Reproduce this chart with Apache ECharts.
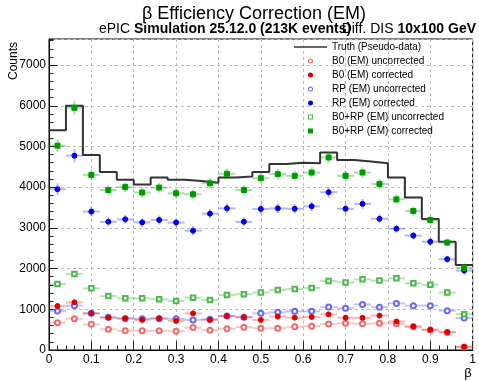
<!DOCTYPE html>
<html>
<head>
<meta charset="utf-8">
<script src="https://cdn.jsdelivr.net/npm/echarts@6.0.0/dist/echarts.min.js"></script>
<style>
html,body{margin:0;padding:0;background:#fff;}
#chart{width:479px;height:381px;}
</style>
</head>
<body>
<div id="chart"></div>
<script>
// ---- data ----
const betaCenters = [0.02,0.06,0.10,0.14,0.18,0.22,0.26,0.30,0.34,0.38,0.42,0.46,0.50,0.54,0.58,0.62,0.66,0.70,0.74,0.78,0.82,0.86,0.90,0.94,0.98];
const truth      = [5400,6000,4790,4370,4180,4065,4235,4180,4150,4110,4240,4260,4375,4570,4600,4590,4850,4670,4630,4590,4240,3745,3220,2660,2090];
const b0Unc      = [670,770,630,510,475,475,475,460,550,485,520,560,535,535,570,585,640,655,645,655,645,570,490,430,72];
const b0UncErr   = [25,28,25,22,22,22,22,21,23,22,23,24,23,23,24,24,25,26,25,26,25,24,22,21,8];
const b0Corr     = [1080,1170,900,795,780,740,780,715,900,740,835,805,740,820,795,810,875,795,790,845,700,580,500,440,78];
const b0CorrErr  = [70,75,60,55,55,55,55,55,60,55,58,55,55,55,55,55,60,55,55,55,50,45,40,40,20];
const rpUnc      = [960,1090,900,805,770,770,770,765,740,755,835,805,900,925,950,950,1055,1025,1120,1050,1145,1090,1090,965,785];
const rpUncErr   = [31,33,30,28,28,28,28,28,27,27,29,28,30,30,31,31,32,32,33,32,34,33,33,31,28];
const rpCorr     = [3950,4775,3400,3150,3210,3135,3195,3130,2930,3350,3480,3150,3465,3480,3470,3530,3875,3470,3590,3225,2980,2810,2660,2230,1950];
const rpCorrErr  = [140,160,120,110,110,110,110,110,110,115,120,110,115,115,115,115,130,115,120,105,100,95,90,85,100];
const sumUnc     = [1620,1865,1515,1325,1270,1270,1245,1205,1285,1230,1350,1370,1415,1475,1500,1525,1695,1660,1735,1705,1760,1640,1600,1410,880];
const sumUncErr  = [40,43,39,36,36,36,35,35,36,35,37,37,38,38,39,39,41,41,42,41,42,40,40,38,30];
const sumCorr    = [5020,5950,4300,3930,4000,3870,3990,3850,3825,4095,4330,3930,4220,4320,4280,4360,4730,4280,4360,4080,3700,3415,3195,2640,2020];
const sumCorrErr = [150,170,130,120,120,120,120,120,120,125,130,120,125,125,125,130,140,125,130,120,115,110,100,95,110];
const legendNames = ['Truth (Pseudo-data)', 'B0 (EM) uncorrected', 'B0 (EM) corrected', 'RP (EM) uncorrected',
                     'RP (EM) corrected', 'B0+RP (EM) uncorrected', 'B0+RP (EM) corrected'];
const HALF_BIN = 0.02;

const FONT = "'Liberation Sans', Arial, Helvetica, sans-serif";

function errRender(color, lw) {
  return function (params, api) {
    const x = api.value(0), y = api.value(1), e = api.value(2);
    const l = api.coord([x - HALF_BIN, y]);
    const r = api.coord([x + HALF_BIN, y]);
    const t = api.coord([x, y + e]);
    const b = api.coord([x, y - e]);
    return {
      type: 'group',
      children: [
        {type: 'line', shape: {x1: l[0], y1: l[1], x2: r[0], y2: r[1]}, style: {stroke: color, lineWidth: lw}},
        {type: 'line', shape: {x1: t[0], y1: t[1], x2: b[0], y2: b[1]}, style: {stroke: color, lineWidth: lw}}
      ]
    };
  };
}
function errSeries(vals, errs, color) {
  return {
    type: 'custom', name: '_err', coordinateSystem: 'cartesian2d', z: 3, silent: true,
    renderItem: errRender(color, 2),
    encode: {x: 0, y: 1},
    data: vals.map((v, i) => [betaCenters[i], v, errs[i]])
  };
}
function markSeries(name, vals, symbol, size, color) {
  return {
    type: 'scatter', name: name, z: 5, symbol: symbol, symbolSize: size,
    itemStyle: {color: color, borderColor: color, borderWidth: 1, opacity: 1},
    data: vals.map((v, i) => [betaCenters[i], v])
  };
}

const truthSteps = truth.map((v, i) => [betaCenters[i] - HALF_BIN, v]);
truthSteps.push([betaCenters[betaCenters.length - 1] + HALF_BIN, truth[truth.length - 1]]);

const C = {
  redUnc: '#f06a6a', redUncBar: 'rgba(240,90,90,0.35)',
  red: '#dd0000', redBar: 'rgba(255,40,40,0.35)',
  blueUnc: '#6a6af0', blueUncBar: 'rgba(80,80,255,0.35)',
  blue: '#0000dd', blueBar: 'rgba(40,40,255,0.35)',
  greenUnc: '#4fb84f', greenUncBar: 'rgba(0,170,0,0.3)',
  green: '#009a00', greenBar: 'rgba(0,170,0,0.35)'
};

const ICON_LINE = 'path://M0,0H66V3H0Z';
const ICON_SQ = 'path://M0,0H10V10H0Z';
const ICON_OSQ = 'path://M0,0H10V10H0Z M2,2V8H8V2Z';
const ICON_CIR = 'path://M5,0A5,5,0,1,1,5,10A5,5,0,1,1,5,0Z';
const ICON_OCIR = 'path://M5,0A5,5,0,1,1,5,10A5,5,0,1,1,5,0Z M5,2A3,3,0,1,0,5,8A3,3,0,1,0,5,2Z';

const chart = echarts.init(document.getElementById('chart'), null, {renderer: 'canvas'});
chart.setOption({
  animation: false,
  backgroundColor: '#fff',
  textStyle: {fontFamily: FONT},
  title: [
    {text: 'β Efficiency Correction (EM)', left: 142, top: 5, padding: 0,
     textStyle: {fontSize: 18, fontWeight: 'normal', color: '#000', fontFamily: FONT}},
    {text: '{n|ePIC }{b|Simulation 25.12.0 (213K events)}', left: 99, top: 22, padding: 0,
     textStyle: {fontFamily: FONT, rich: {
       n: {fontSize: 14, fontWeight: 'normal', color: '#000', fontFamily: FONT},
       b: {fontSize: 14, fontWeight: 'bold', color: '#000', fontFamily: FONT}}}},
    {text: '{n|Diff. DIS }{b|10x100 GeV}', right: 3, top: 22, padding: 0,
     textStyle: {fontFamily: FONT, rich: {
       n: {fontSize: 14, fontWeight: 'normal', color: '#000', fontFamily: FONT},
       b: {fontSize: 14, fontWeight: 'bold', color: '#000', fontFamily: FONT}}}}
  ],
  grid: {left: 49, right: 6, top: 39, bottom: 31, show: true, borderColor: '#000', borderWidth: 1, backgroundColor: 'transparent'},
  legend: {
    orient: 'vertical', left: 294, top: 40, padding: 0, itemGap: 0,
    itemWidth: 33, itemHeight: 5, itemTextGap: 7, selectedMode: false,
    textStyle: {fontSize: 10, color: '#000', fontFamily: FONT, lineHeight: 14},
    data: [
      {name: legendNames[0], icon: ICON_LINE, itemStyle: {color: '#333'}},
      {name: legendNames[1], icon: ICON_OCIR, itemStyle: {color: C.redUnc, borderWidth: 0}},
      {name: legendNames[2], icon: ICON_CIR, itemStyle: {color: C.red, borderWidth: 0}},
      {name: legendNames[3], icon: ICON_OCIR, itemStyle: {color: C.blueUnc, borderWidth: 0}},
      {name: legendNames[4], icon: ICON_CIR, itemStyle: {color: C.blue, borderWidth: 0}},
      {name: legendNames[5], icon: ICON_OSQ, itemStyle: {color: C.greenUnc, borderWidth: 0}},
      {name: legendNames[6], icon: ICON_SQ, itemStyle: {color: C.green, borderWidth: 0}}
    ]
  },
  xAxis: {
    type: 'value', min: 0, max: 1, interval: 0.1,
    axisLine: {show: true, onZero: false, lineStyle: {color: '#000', width: 1}},
    axisTick: {show: true, inside: true, length: 9, lineStyle: {color: '#222'}},
    minorTick: {show: true, splitNumber: 5, length: 4.5, lineStyle: {color: '#222'}},
    axisLabel: {fontSize: 12, color: '#000', margin: 4, fontFamily: FONT},
    splitLine: {show: true, lineStyle: {type: [3, 3], color: '#bdbdbd', width: 1}}
  },
  yAxis: [
    {
      type: 'value', min: 0, max: 7640, interval: 1000, position: 'left',
      axisLine: {show: true, onZero: false, lineStyle: {color: '#000', width: 1}},
      axisTick: {show: true, inside: true, length: 9, lineStyle: {color: '#222'}},
      axisLabel: {fontSize: 12, color: '#000', margin: 3, showMaxLabel: false, fontFamily: FONT,
                  formatter: v => String(Math.round(v))},
      splitLine: {show: true, lineStyle: {type: [3, 3], color: '#bdbdbd', width: 1}}
    },
    {
      type: 'value', min: 0, max: 7640, interval: 200, position: 'left', offset: 0,
      axisLine: {show: false},
      axisTick: {show: true, inside: true, length: 4.5, lineStyle: {color: '#222'}},
      axisLabel: {show: false},
      splitLine: {show: false}
    }
  ],
  graphic: [
    {type: 'text', x: 8, y: 42, rotation: Math.PI / 2,
     style: {text: 'Counts', font: "12px 'Liberation Sans', Arial, sans-serif", fill: '#000', align: 'right', verticalAlign: 'top'}},
    {type: 'text', x: 468, y: 373,
     style: {text: 'β', font: "13px 'Liberation Sans', Arial, sans-serif", fill: '#000', align: 'center', verticalAlign: 'middle'}}
  ],
  series: [
    {type: 'line', name: legendNames[0], step: 'end', z: 2, symbol: 'none', showSymbol: false,
     lineStyle: {color: '#333', width: 2}, itemStyle: {color: '#333'}, data: truthSteps},
    errSeries(b0Unc, b0UncErr, C.redUncBar),
    errSeries(rpUnc, rpUncErr, C.blueUncBar),
    errSeries(sumUnc, sumUncErr, C.greenUncBar),
    errSeries(b0Corr, b0CorrErr, C.redBar),
    errSeries(rpCorr, rpCorrErr, C.blueBar),
    errSeries(sumCorr, sumCorrErr, C.greenBar),
    markSeries(legendNames[1], b0Unc, 'emptyCircle', 5, C.redUnc),
    markSeries(legendNames[3], rpUnc, 'emptyCircle', 5, C.blueUnc),
    markSeries(legendNames[5], sumUnc, 'emptyRect', 4.5, C.greenUnc),
    markSeries(legendNames[2], b0Corr, 'circle', 5, C.red),
    markSeries(legendNames[4], rpCorr, 'circle', 5, C.blue),
    markSeries(legendNames[6], sumCorr, 'rect', 5, C.green)
  ]
});
</script>
</body>
</html>
